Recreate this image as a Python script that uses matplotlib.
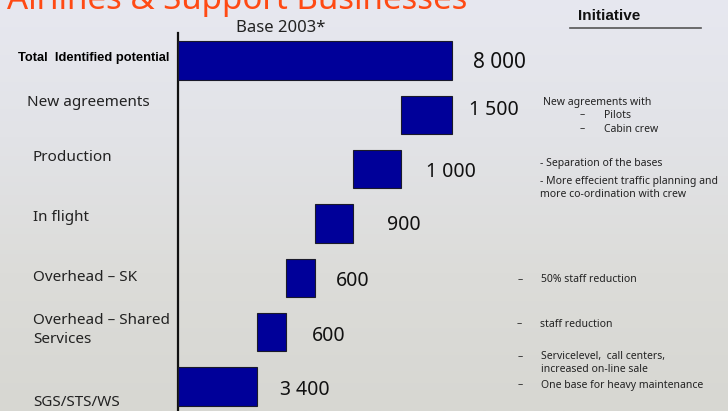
import matplotlib
matplotlib.use("Agg")
import matplotlib.pyplot as plt
import numpy as np
from matplotlib.colors import LinearSegmentedColormap

# ---- data ----
categories = ["Total  Identified potential", "New agreements", "Production", "In flight",
              "Overhead \u2013 SK", "Overhead \u2013 Shared\nServices", "SGS/STS/WS"]
values = [8000, 1500, 1000, 900, 600, 600, 3400]
value_labels = ["8 000", "1 500", "1 000", "900", "600", "600", "3 400"]
# bar lengths as drawn in the reference (not to scale with the labels)
bar_lengths = [8000, 1478, 1420, 1101, 841, 841, 2319]
initiatives = [
    ("New agreements with", None),
    ("\u2013", "Pilots"),
    ("\u2013", "Cabin crew"),
    ("- Separation of the bases", None),
    ("- More effecient traffic planning and\nmore co-ordination with crew", None),
    ("\u2013", "50% staff reduction"),
    ("\u2013", "staff reduction"),
    ("\u2013", "Servicelevel,  call centers,\nincreased on-line sale"),
    ("\u2013", "One base for heavy maintenance"),
]
title = "Airlines & Support Businesses"
subtitle = "Base 2003*"
initiative_header = "Initiative"

# waterfall: total from 0; components stacked so the last one starts at 0
lefts = [0] * len(bar_lengths)
acc = 0
for i in range(len(bar_lengths) - 1, 0, -1):
    lefts[i] = acc
    acc += bar_lengths[i]

W, H = 728, 411
fig = plt.figure(figsize=(W / 100, H / 100), dpi=100)

def fx(x): return x / W
def fy(y): return 1 - y / H

# background gradient
bg = fig.add_axes([0, 0, 1, 1], zorder=-5)
cmap = LinearSegmentedColormap.from_list("bg", ["#e7e8f0", "#e2e3e7", "#dcdcd9", "#d7d7d2"])
grad = np.linspace(0, 1, 256).reshape(-1, 1)
bg.imshow(grad, aspect="auto", cmap=cmap, extent=[0, 1, 0, 1], origin="upper")
bg.set_axis_off()

FONT = ["Noto Sans", "DejaVu Sans"]
NARROW = ["Liberation Sans Narrow", "Liberation Sans", "DejaVu Sans"]

# main axes: x 178..728 px, full height
ax = fig.add_axes([fx(178), 0, 1 - fx(178), 1])
ax.patch.set_alpha(0)
ax.set_xlim(0, 8000 * 550 / 274)
pitch = 54.33
c0 = 60.5
ax.set_ylim((H - c0) / pitch, -c0 / pitch)
ypos = np.arange(len(values))
ax.barh(ypos, bar_lengths, left=lefts, height=38.5 / pitch, color="#000099",
        edgecolor="#1a1a2a", linewidth=0.8, zorder=3)
for s in ["top", "right", "bottom"]:
    ax.spines[s].set_visible(False)
ax.spines["left"].set_linewidth(1.6)
ax.spines["left"].set_color("#111111")
ax.spines["left"].set_bounds((33 - c0) / pitch, (H - c0) / pitch)
ax.set_xticks([])
ax.set_yticks([])

# value labels
offsets = [21, 17, 25, 34, 21, 26, 23]
dys = [2, -5, 3, 2, 3, 4, 4]
for i, (l, v, lab) in enumerate(zip(lefts, bar_lengths, value_labels)):
    ax.annotate(lab, (l + v, i), xytext=(offsets[i] * 0.72, -dys[i] * 0.72),
                textcoords="offset points", va="center", ha="left",
                fontsize=15 if i == 0 else 14, family=FONT, color="#111111")

# category labels
lab_x = [18, 27, 33, 33, 33, 33, 33]
lab_dy = [-3, -12, -12, -6, 0, -2, 16]
for i, c in enumerate(categories):
    if i == 0:
        fig.text(fx(18), fy(c0 + i * pitch + lab_dy[i]), c, fontsize=9.3, weight="bold",
                 family=NARROW, va="center", ha="left", color="#000000")
    else:
        fig.text(fx(lab_x[i]), fy(c0 + i * pitch + lab_dy[i]), c, fontsize=11,
                 family=FONT, va="center", ha="left", color="#222222", linespacing=1.3)

# title (cut at top as in the reference)
fig.text(fx(467), fy(9), title, fontsize=23.8, color="#ff4a14", family=FONT,
         ha="right", va="baseline")
fig.text(fx(281), fy(28), subtitle, fontsize=12, family=FONT, ha="center",
         va="center", color="#222222")
fig.text(fx(609), fy(16), initiative_header, fontsize=11, family=NARROW, weight="bold",
         ha="center", va="center", color="#111111")
bg.plot([fx(570), fx(701)], [fy(28), fy(28)], color="#555555", lw=1.2,
        transform=fig.transFigure, zorder=2)

# initiatives
ann_pos = [(543, None, 102), (580, 604, 115), (580, 604, 129), (540, None, 163),
           (540, None, 188), (518, 541, 280), (517, 540, 324), (518, 541, 363),
           (518, 541, 385)]
for (a, b), (x1, x2, y) in zip(initiatives, ann_pos):
    if b is None:
        fig.text(fx(x1), fy(y), a, fontsize=7.5, family=FONT, va="center", ha="left",
                 color="#222222", linespacing=1.15)
    else:
        fig.text(fx(x1), fy(y if "\n" not in b else y - 6), a, fontsize=7.5, family=FONT,
                 va="center", ha="left", color="#222222")
        fig.text(fx(x2), fy(y), b, fontsize=7.5, family=FONT, va="center", ha="left",
                 color="#222222", linespacing=1.15)

fig.savefig("out.png", dpi=100)
